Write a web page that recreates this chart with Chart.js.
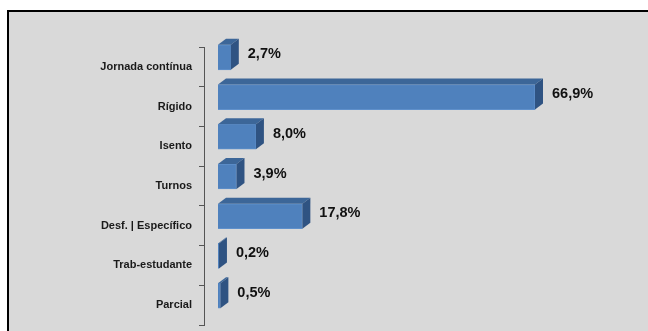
<!DOCTYPE html>
<html>
<head>
<meta charset="utf-8">
<script src="https://cdn.jsdelivr.net/npm/chart.js@4"></script>
<style>
  html, body { margin: 0; padding: 0; background: #fff; overflow: hidden; width: 648px; height: 331px; }
  #frame {
    position: absolute; left: 7px; top: 10px; width: 700px; height: 400px;
    background: #d9d9d9; border-top: 2px solid #000; border-left: 2px solid #000;
    box-sizing: border-box;
  }
  #chart { position: absolute; left: 0; top: 0; }
</style>
</head>
<body>
<div id="frame"></div>
<canvas id="chart" width="648" height="331"></canvas>
<script>
// Horário de trabalho (%)
const categories = ['Jornada contínua', 'Rígido', 'Isento', 'Turnos', 'Desf. | Específico', 'Trab-estudante', 'Parcial'];
const percentages = [2.7, 66.9, 8.0, 3.9, 17.8, 0.2, 0.5];

// 3D look: depth of the box and colours of each face
const DEPTH_X = 8, DEPTH_Y = 6, LIFT = 9.5;
const FRONT = '#4f81bd', TOP = '#3c6698', SIDE = '#2f5382';

const fmt = v => v.toFixed(1).replace('.', ',') + '%';

const boxes3d = {
  id: 'boxes3d',
  beforeDatasetsDraw(chart) {
    chart.ctx.save();
    chart.ctx.translate(0, -LIFT);
  },
  afterDatasetsDraw(chart) {
    const ctx = chart.ctx;
    const meta = chart.getDatasetMeta(0);
    meta.data.forEach((bar, i) => {
      const { x, y, base, height } = bar.getProps(['x', 'y', 'base', 'height'], true);
      const top = y - height / 2, bottom = y + height / 2;
      // top face
      ctx.fillStyle = TOP;
      ctx.beginPath();
      ctx.moveTo(base, top);
      ctx.lineTo(base + DEPTH_X, top - DEPTH_Y);
      ctx.lineTo(x + DEPTH_X, top - DEPTH_Y);
      ctx.lineTo(x, top);
      ctx.closePath();
      ctx.fill();
      // side face
      ctx.fillStyle = SIDE;
      ctx.beginPath();
      ctx.moveTo(x, top);
      ctx.lineTo(x + DEPTH_X, top - DEPTH_Y);
      ctx.lineTo(x + DEPTH_X, bottom - DEPTH_Y);
      ctx.lineTo(x, bottom);
      ctx.closePath();
      ctx.fill();
      // value label
      ctx.fillStyle = '#111';
      ctx.font = 'bold 14.5px "Liberation Sans", Arial, sans-serif';
      ctx.textBaseline = 'middle';
      ctx.textAlign = 'left';
      ctx.fillText(fmt(percentages[i]), x + DEPTH_X + 9, y - DEPTH_Y / 2);
    });
    ctx.restore();
  }
};

// 0 sits 14px right of the axis line; 66,9% ends at x=535
const pxPerUnit = (535 - 218) / 66.9;

new Chart(document.getElementById('chart'), {
  type: 'bar',
  data: {
    labels: categories,
    datasets: [{
      data: percentages,
      backgroundColor: FRONT,
      borderColor: '#5f90cb',
      borderWidth: 1,
      barThickness: 25,
      clip: false
    }]
  },
  options: {
    indexAxis: 'y',
    responsive: false,
    animation: false,
    devicePixelRatio: 1,
    layout: { padding: { top: 47, bottom: 6, left: 0, right: 8 } },
    plugins: { legend: { display: false }, tooltip: { enabled: false } },
    scales: {
      x: {
        type: 'linear',
        display: false,
        min: -14 / pxPerUnit,
        max: (640 - 218) / pxPerUnit
      },
      y: {
        offset: true,
        grid: { drawOnChartArea: false, offset: true, tickLength: 5, color: '#555' },
        border: { color: '#555' },
        ticks: {
          padding: 7,
          color: '#1a1a1a',
          font: { family: '"Liberation Sans", Arial, sans-serif', size: 11, weight: 'bold' }
        },
        afterFit(scale) {
          scale.width = 204;
          scale.paddingTop = 0;
          scale.paddingBottom = 0;
        }
      }
    }
  },
  plugins: [boxes3d]
});
</script>
</body>
</html>
